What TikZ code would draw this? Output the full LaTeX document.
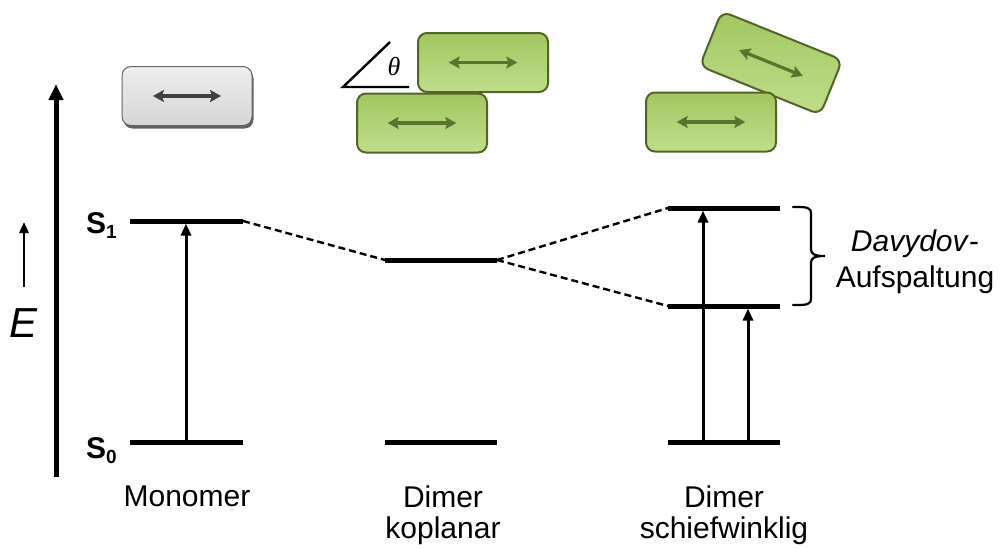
\documentclass[tikz,border=0pt]{standalone}
\usepackage{fontspec}
\setmainfont{Liberation Sans}
\newfontfamily\greekserif{Liberation Serif}
\usetikzlibrary{arrows.meta,calc}

\definecolor{greenfill}{RGB}{166,202,102}
\definecolor{greentop}{RGB}{162,198,96}
\definecolor{greenlow}{RGB}{192,222,140}
\definecolor{greenedge}{RGB}{82,100,38}
\definecolor{greenarrow}{RGB}{92,114,48}
\definecolor{grayarrow}{RGB}{64,64,64}

\tikzset{
  lbl/.style={font=\fontsize{30}{31}\selectfont, inner sep=0pt, align=center},
  level/.style={line width=5pt, line cap=butt},
  corr/.style={line width=2.4pt, dash pattern=on 7pt off 4pt},
  trans/.style={line width=3pt, -{Triangle[length=12pt,width=10pt]}},
  blockbase/.style={rectangle, rounded corners=9pt, minimum width=130pt,
    minimum height=59pt, inner sep=0pt},
  grayblock/.style={blockbase, draw=gray!80!black, line width=1pt,
    top color=white!93!black, middle color=white!90!black, bottom color=white!84!black},
  grayrim/.style={blockbase, fill=black!62},
  greenblock/.style={blockbase, draw=greenedge, line width=2pt,
    top color=greentop, middle color=greenfill, bottom color=greenlow},
  dipole/.style={line width=3.2pt, {Stealth[length=11pt,width=12pt,inset=2pt]}-{Stealth[length=11pt,width=12pt,inset=2pt]}},
}

\begin{document}
\begin{tikzpicture}[x=1pt,y=-1pt]
\useasboundingbox (0,0) rectangle (1005,549);

% energy axis
\coordinate (axb) at (56,477);
\coordinate (axt) at (56,84);
\draw[line width=5pt, -{Triangle[length=16pt,width=14pt]}] (axb) -- (axt);
\coordinate (eb) at (24,287);
\coordinate (et) at (24,222);
\draw[line width=2.6pt, -{Triangle[length=11pt,width=9pt]}] (eb) -- (et);
\node[font=\fontsize{42}{42}\selectfont\itshape, inner sep=0pt, anchor=base] (E) at (24,337) {E};

% state labels
\node[font=\fontsize{30}{30}\selectfont\bfseries, inner sep=0pt, anchor=base west] (S1) at (86,233)
  {S\raisebox{-5pt}{\fontsize{19}{19}\selectfont 1}};
\node[font=\fontsize{30}{30}\selectfont\bfseries, inner sep=0pt, anchor=base west] (S0) at (86,458)
  {S\raisebox{-5pt}{\fontsize{19}{19}\selectfont 0}};

% monomer levels
\coordinate (m1l) at (130,221);  \coordinate (m1r) at (243,221);
\coordinate (m0l) at (130,442);  \coordinate (m0r) at (243,442);
\draw[level] (m1l) -- (m1r);
\draw[level] (m0l) -- (m0r);
\coordinate (ma) at (186,442); \coordinate (mb) at (186,223.5);
\draw[trans] (ma) -- (mb);

% coplanar dimer levels
\coordinate (k1l) at (385,260);  \coordinate (k1r) at (497,260);
\coordinate (k0l) at (385,442);  \coordinate (k0r) at (497,442);
\draw[level] (k1l) -- (k1r);
\draw[level] (k0l) -- (k0r);

% oblique dimer levels
\coordinate (s2l) at (668,208);  \coordinate (s2r) at (780,208);
\coordinate (s1l) at (668,306);  \coordinate (s1r) at (780,306);
\coordinate (s0l) at (668,442);  \coordinate (s0r) at (780,442);
\draw[level] (s2l) -- (s2r);
\draw[level] (s1l) -- (s1r);
\draw[level] (s0l) -- (s0r);
\coordinate (sa) at (703,442); \coordinate (sb) at (703,210.5);
\coordinate (sc) at (748,442); \coordinate (sd) at (748,308.5);
\draw[trans] (sa) -- (sb);
\draw[trans] (sc) -- (sd);

% correlation lines
\draw[corr] (m1r) -- (k1l);
\draw[corr] (k1r) -- (s2l);
\draw[corr] (k1r) -- (s1l);

% Davydov splitting brace
\coordinate (bt) at (793,207);
\coordinate (bm) at (825,256);
\coordinate (bb) at (793,305);
\draw[line width=2.2pt, line cap=round]
  (bt) .. controls (807,207) and (811,207) .. (811,214) -- (811,249)
  .. controls (811,254) and (814,256) .. (bm)
  .. controls (814,256) and (811,258) .. (811,263) -- (811,298)
  .. controls (811,305) and (807,305) .. (bb);
\node[lbl, font=\fontsize{30}{36}\selectfont, anchor=base] (dav) at (915,287)
  {\textit{Davydov}-\\Aufspaltung};

% column captions
\node[lbl, anchor=base] (capm) at (187,506) {Monomer};
\node[lbl, anchor=base] (capk) at (443,538) {Dimer\\koplanar};
\node[lbl, anchor=base] (caps) at (724,538) {Dimer\\schiefwinklig};

% monomer block
\node[grayrim] (mrim) at (188.5,99) {};
\node[grayblock] (mblk) at (187,96) {};
\draw[dipole, grayarrow] ($(mblk.center)!0.52!(mblk.west)$) -- ($(mblk.center)!0.52!(mblk.east)$);

% coplanar dimer blocks
\node[greenblock] (kb1) at (483,62.5) {};
\node[greenblock] (kb2) at (422,123) {};
\draw[dipole, greenarrow] ($(kb1.center)!0.52!(kb1.west)$) -- ($(kb1.center)!0.52!(kb1.east)$);
\draw[dipole, greenarrow] ($(kb2.center)!0.52!(kb2.west)$) -- ($(kb2.center)!0.52!(kb2.east)$);

% angle sign
\coordinate (ang0) at (343,87);
\coordinate (ang1) at (409,87);
\coordinate (ang2) at (390,42);
\draw[line width=2.4pt] (ang2) -- (ang0) -- (ang1);
\node[font=\greekserif\itshape\fontsize{26}{26}\selectfont, inner sep=0pt, anchor=base] (theta) at (394,75) {θ};

% oblique dimer blocks
\node[greenblock, rotate=-22] (sbk1) at (771,63) {};
\node[greenblock] (sbk2) at (711,122) {};
\draw[dipole, greenarrow] ($(sbk1.center)!0.52!(sbk1.west)$) -- ($(sbk1.center)!0.52!(sbk1.east)$);
\draw[dipole, greenarrow] ($(sbk2.center)!0.52!(sbk2.west)$) -- ($(sbk2.center)!0.52!(sbk2.east)$);
\end{tikzpicture}
\end{document}
